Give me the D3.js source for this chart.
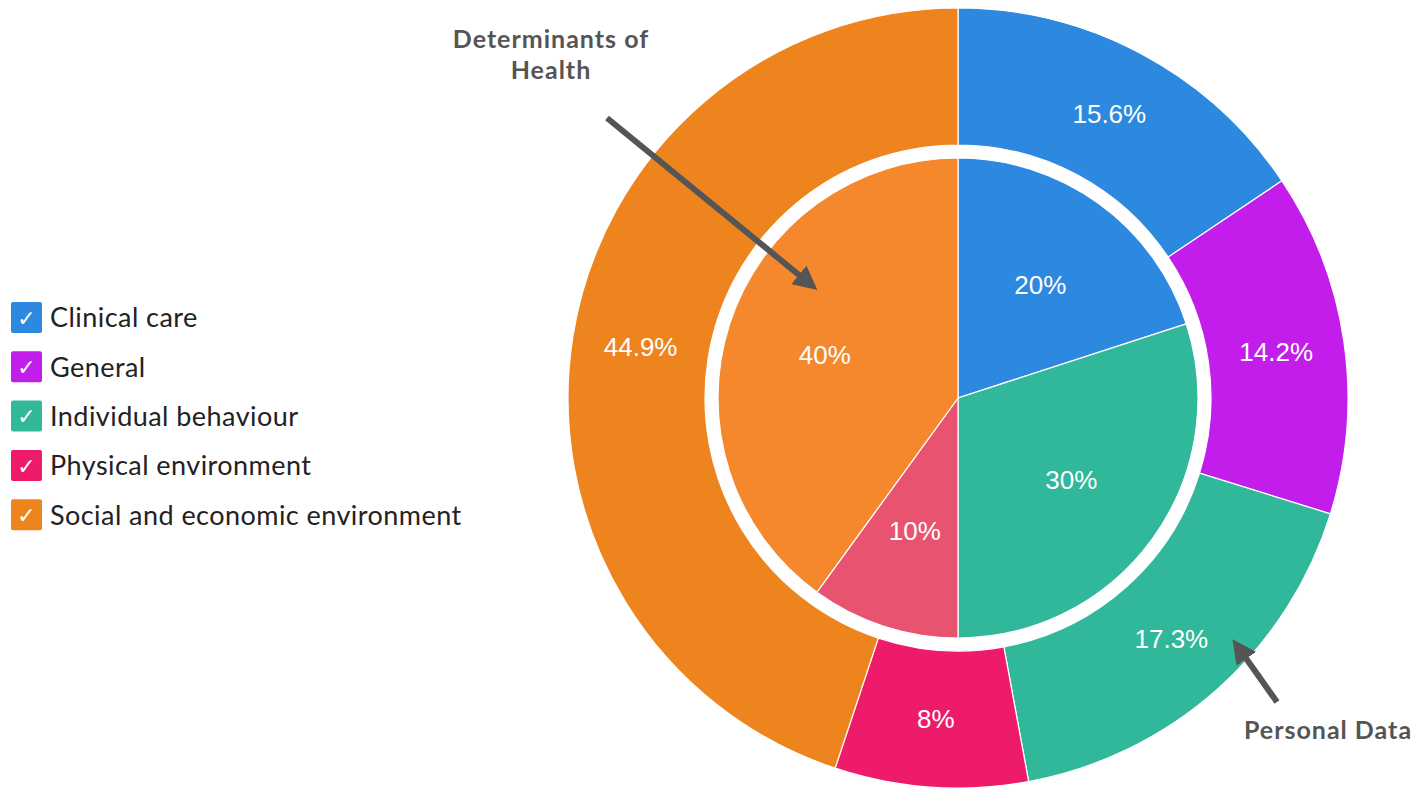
<!DOCTYPE html>
<html>
<head>
<meta charset="utf-8">
<script src="https://cdn.jsdelivr.net/npm/d3@7"></script>
<style>
  body { margin: 0; background: #fff; }
  svg { display: block; }
</style>
</head>
<body>
<div id="chart"></div>
<script>
    // Categories and colours
    const categories = ['Clinical care', 'General', 'Individual behaviour', 'Physical environment', 'Social and economic environment'];
    const outerColors = ['#2d88e0', '#c21dea', '#31b79a', '#ee1b6b', '#ee841e'];
    const innerColors = ['#2d88e0', '#c21dea', '#31b79a', '#e8536f', '#f5882d'];

    // Outer ring: Personal Data
    const personalData = [15.6, 14.2, 17.3, 8, 44.9];
    // Inner pie: Determinants of Health
    const determinants = [20, 0, 30, 10, 40];

    const svgWidth = 1417;
    const svgHeight = 789;
    const cx = 958, cy = 398;
    const outerR = 390, ringInnerR = 253, pieR = 240;

    const svg = d3.select('#chart')
        .append('svg')
        .attr('width', svgWidth)
        .attr('height', svgHeight);

    const pie = d3.pie().sort(null).value(d => d.value);

    const outerData = pie(categories.map((c, i) => ({ category: c, value: personalData[i], i })));
    const innerData = pie(categories.map((c, i) => ({ category: c, value: determinants[i], i })))
        .filter(d => d.data.value > 0);

    const outerArc = d3.arc().innerRadius(ringInnerR).outerRadius(outerR);
    const innerArc = d3.arc().innerRadius(0).outerRadius(pieR);
    const innerLabelArc = d3.arc().innerRadius(280).outerRadius(0);

    const g = svg.append('g').attr('transform', `translate(${cx},${cy})`);

    // Outer ring
    g.selectAll('.outer')
        .data(outerData)
        .enter()
        .append('path')
        .attr('class', 'outer')
        .attr('d', outerArc)
        .attr('fill', d => outerColors[d.data.i])
        .attr('stroke', '#fff')
        .attr('stroke-width', 1.2);

    // Inner pie
    g.selectAll('.inner')
        .data(innerData)
        .enter()
        .append('path')
        .attr('class', 'inner')
        .attr('d', innerArc)
        .attr('fill', d => innerColors[d.data.i])
        .attr('stroke', '#fff')
        .attr('stroke-width', 1.2);

    // Labels
    g.selectAll('.outer-label')
        .data(outerData)
        .enter()
        .append('text')
        .attr('class', 'outer-label')
        .attr('transform', d => `translate(${outerArc.centroid(d)})`)
        .attr('text-anchor', 'middle')
        .attr('dy', '0.35em')
        .style('font-family', 'Liberation Sans, Arial, sans-serif')
        .style('font-size', '26px')
        .attr('fill', '#fff')
        .text(d => d.data.value + '%');

    g.selectAll('.inner-label')
        .data(innerData)
        .enter()
        .append('text')
        .attr('class', 'inner-label')
        .attr('transform', d => `translate(${innerLabelArc.centroid(d)})`)
        .attr('text-anchor', 'middle')
        .attr('dy', '0.35em')
        .style('font-family', 'Liberation Sans, Arial, sans-serif')
        .style('font-size', '26px')
        .attr('fill', '#fff')
        .text(d => d.data.value + '%');

    // Legend
    const legend = svg.append('g').attr('transform', 'translate(11, 302)');
    const rows = legend.selectAll('.legend-row')
        .data(categories)
        .enter()
        .append('g')
        .attr('class', 'legend-row')
        .attr('transform', (d, i) => `translate(0, ${i * 49.3})`);

    rows.append('rect')
        .attr('width', 31)
        .attr('height', 31)
        .attr('rx', 2)
        .attr('fill', (d, i) => outerColors[i]);

    rows.append('text')
        .attr('x', 15.5)
        .attr('y', 16)
        .attr('dy', '0.35em')
        .attr('text-anchor', 'middle')
        .attr('fill', '#fff')
        .style('font-family', 'DejaVu Sans, sans-serif')
        .style('font-size', '22px')
        .text('\u2713');

    rows.append('text')
        .attr('x', 39)
        .attr('y', 16)
        .attr('dy', '0.35em')
        .attr('fill', '#222')
        .style('font-family', 'Lato, sans-serif')
        .style('font-size', '27px')
        .style('letter-spacing', '0.45px')
        .text(d => d);

    // Annotations
    svg.append('defs').append('marker')
        .attr('id', 'arrow')
        .attr('viewBox', '0 0 10 10')
        .attr('refX', 6)
        .attr('refY', 5)
        .attr('markerWidth', 4)
        .attr('markerHeight', 4)
        .attr('orient', 'auto')
        .append('path')
        .attr('d', 'M0,0 L10,5 L0,10 z')
        .attr('fill', '#555');

    svg.append('line')
        .attr('x1', 607).attr('y1', 118)
        .attr('x2', 810).attr('y2', 284)
        .attr('stroke', '#555')
        .attr('stroke-width', 6)
        .attr('marker-end', 'url(#arrow)');

    svg.append('line')
        .attr('x1', 1277).attr('y1', 702)
        .attr('x2', 1238).attr('y2', 647)
        .attr('stroke', '#555')
        .attr('stroke-width', 6)
        .attr('marker-end', 'url(#arrow)');

    const annStyle = sel => sel
        .attr('text-anchor', 'middle')
        .attr('fill', '#555')
        .style('font-family', 'Lato, sans-serif')
        .style('font-weight', 'bold')
        .style('font-size', '25px')
        .style('letter-spacing', '1px');

    svg.append('text').call(annStyle).attr('x', 551).attr('y', 48).text('Determinants of');
    svg.append('text').call(annStyle).attr('x', 551).attr('y', 79).text('Health');
    svg.append('text').call(annStyle).attr('x', 1328).attr('y', 739).text('Personal Data');
</script>
</body>
</html>
